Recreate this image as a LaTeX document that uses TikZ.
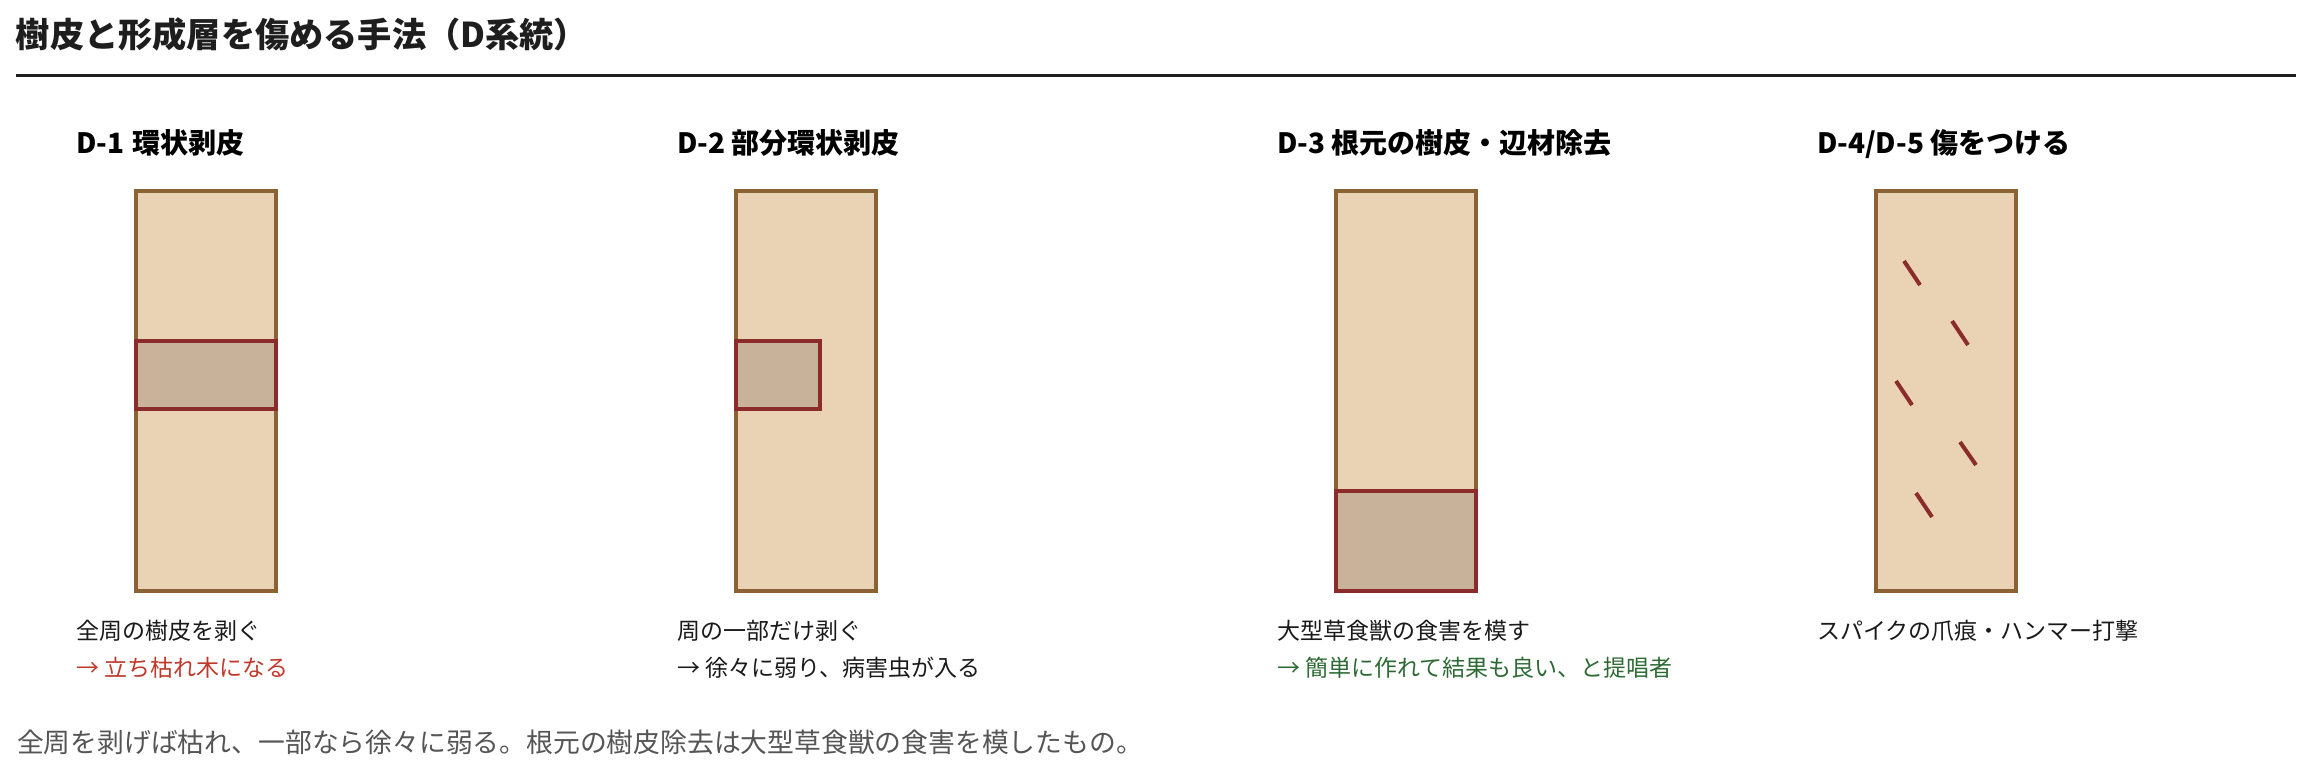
\documentclass[tikz,border=0pt]{standalone}
\usepackage{fontspec}
\setmainfont{Noto Sans CJK JP}
\definecolor{trunkfill}{HTML}{E9D3B4}
\definecolor{trunkline}{HTML}{8B6234}
\definecolor{woundfill}{HTML}{C8B39A}
\definecolor{woundline}{HTML}{8B2B2B}
\definecolor{titlecol}{HTML}{1E1E1E}
\definecolor{bodycol}{HTML}{1A1A1A}
\definecolor{redcol}{HTML}{C0392B}
\definecolor{greencol}{HTML}{2E6B34}
\definecolor{capcol}{HTML}{555555}
\begin{document}
\begin{tikzpicture}[x=1pt,y=-1pt,
  every node/.style={inner sep=0pt, outer sep=0pt, anchor=base west},
  trunk/.style={draw=trunkline, fill=trunkfill, line width=3.6pt},
  wound/.style={draw=woundline, fill=woundfill, line width=3.6pt},
  scratch/.style={draw=woundline, line width=4pt},
  titletext/.style={font=\fontsize{34.2}{34.2}\selectfont\bfseries, text=titlecol},
  headtext/.style={font=\fontsize{28}{28}\selectfont\bfseries, text=black},
  bodytext/.style={font=\fontsize{23}{23}\selectfont, text=bodycol},
  captext/.style={font=\fontsize{26.8}{26.8}\selectfont, text=capcol}]
\useasboundingbox (0,0) rectangle (2312,769);
\fill[white] (0,0) rectangle (2312,769);

% title and rule
\node[titletext] (title) at (16,47) {樹皮と形成層を傷める手法（D系統）};
\draw[line width=3pt, titlecol] (16,75) -- (2296,75);

% D-1
\node[headtext] (h1) at (76,153) {D-1\hspace{0.3em}環状剥皮};
\draw[trunk] (136,191) rectangle (276,591);
\draw[wound] (136,341) rectangle (276,409);
\node[bodytext] (a1) at (76,639) {全周の樹皮を剥ぐ};
\node[bodytext, text=redcol] (b1) at (76,676) {→ 立ち枯れ木になる};

% D-2
\node[headtext] (h2) at (677,153) {D-2 部分環状剥皮};
\draw[trunk] (736,191) rectangle (876,591);
\draw[wound] (736,341) rectangle (820,409);
\node[bodytext] (a2) at (677,639) {周の一部だけ剥ぐ};
\node[bodytext] (b2) at (677,676) {→ 徐々に弱り、病害虫が入る};

% D-3
\node[headtext] (h3) at (1277,153) {D-3 根元の樹皮・辺材除去};
\draw[trunk] (1336,191) rectangle (1476,591);
\draw[wound] (1336,491) rectangle (1476,591);
\node[bodytext] (a3) at (1277,639) {大型草食獣の食害を模す};
\node[bodytext, text=greencol] (b3) at (1277,676) {→ 簡単に作れて結果も良い、と提唱者};

% D-4/D-5
\node[headtext] (h4) at (1817,153) {D-4/D-5 傷をつける};
\draw[trunk] (1876,191) rectangle (2016,591);
\draw[scratch] (1904,261) -- (1920,285);
\draw[scratch] (1952,321) -- (1968,345);
\draw[scratch] (1896,381) -- (1912,405);
\draw[scratch] (1960,442) -- (1976,465);
\draw[scratch] (1916,493) -- (1932,517);
\node[bodytext] (a4) at (1817,639) {スパイクの爪痕・ハンマー打撃};

% caption
\node[captext] (cap) at (17,752) {全周を剥げば枯れ、一部なら徐々に弱る。根元の樹皮除去は大型草食獣の食害を模したもの。};
\end{tikzpicture}
\end{document}
